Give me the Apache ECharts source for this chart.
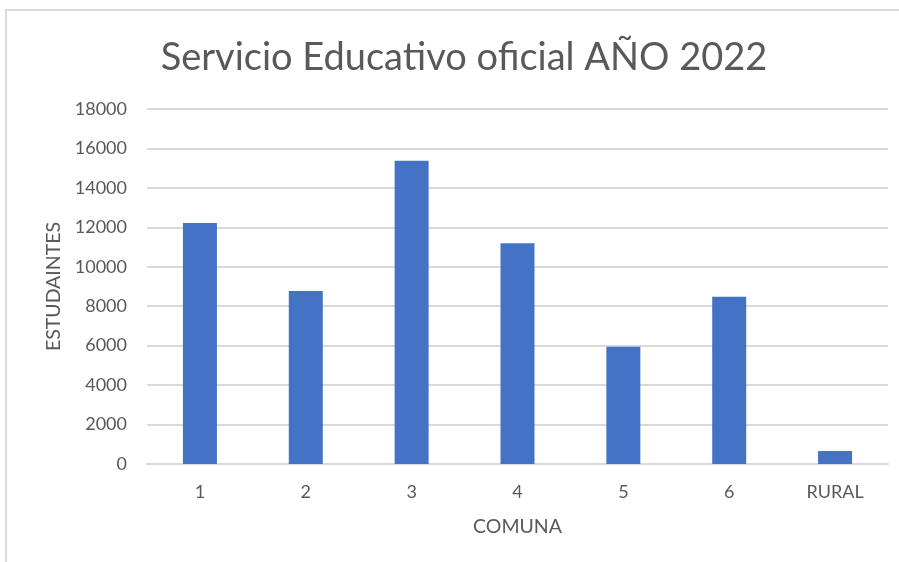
<!DOCTYPE html>
<html>
<head>
<meta charset="utf-8">
<script src="https://cdn.jsdelivr.net/npm/echarts@6/dist/echarts.min.js"></script>
<style>
  html, body { margin: 0; padding: 0; background: #fff; }
  #frame {
    position: absolute; left: 5px; top: 9px; width: 900px; height: 560px;
    border-left: 2px solid #d9d9d9; border-top: 2px solid #d9d9d9;
  }
  #chart { position: absolute; left: 0; top: 0; width: 899px; height: 562px; }
</style>
</head>
<body>
<div id="frame"></div>
<div id="chart"></div>
<script>
// datos
const comunas = ['1', '2', '3', '4', '5', '6', 'RURAL']
const estudiantes = [12220, 8770, 15380, 11190, 5950, 8480, 660]

const textColor = '#595959'
const fuente = 'Lato, "Open Sans", sans-serif'
const chart = echarts.init(document.getElementById('chart'))

chart.setOption({
  animation: false,
  title: {
    text: 'Servicio Educativo oficial AÑO 2022',
    left: 459,
    textAlign: 'center',
    top: 34,
    textStyle: {
      color: textColor,
      fontFamily: fuente,
      fontWeight: 'normal',
      fontSize: 38
    }
  },
  grid: {
    left: 147,
    right: 11,
    top: 109,
    bottom: 98
  },
  xAxis: {
    type: 'category',
    data: comunas,
    name: 'COMUNA',
    nameLocation: 'middle',
    nameGap: 53,
    nameTextStyle: { color: textColor, fontSize: 19.5, fontFamily: fuente },
    axisLine: { lineStyle: { color: '#d9d9d9', width: 2 } },
    axisTick: { show: false },
    axisLabel: { color: textColor, fontSize: 18, margin: 19, fontFamily: fuente }
  },
  yAxis: {
    type: 'value',
    min: 0,
    max: 18000,
    interval: 2000,
    name: 'ESTUDAINTES',
    nameLocation: 'middle',
    nameGap: 78,
    nameTextStyle: { color: textColor, fontSize: 19.5, fontFamily: fuente },
    axisLine: { show: false },
    axisTick: { show: false },
    axisLabel: {
      color: textColor, fontSize: 18, margin: 20, fontFamily: fuente,
      formatter: function (v) { return String(v) }
    },
    splitLine: { lineStyle: { color: '#d9d9d9', width: 2 } }
  },
  series: [
    {
      type: 'bar',
      data: estudiantes,
      barWidth: 34,
      itemStyle: { color: '#4472c4' }
    }
  ]
})
</script>
</body>
</html>
